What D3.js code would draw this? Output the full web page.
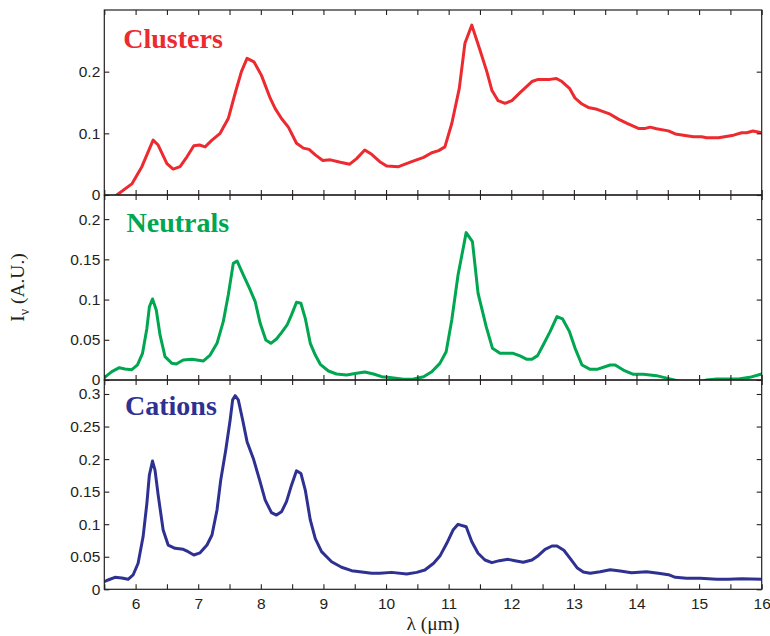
<!DOCTYPE html>
<html>
<head>
<meta charset="utf-8">
<script src="https://cdn.jsdelivr.net/npm/d3@7"></script>
<style>
  html, body { margin: 0; padding: 0; background: #fff; }
  svg { display: block; }
  .tick text { font-family: "Liberation Sans", Arial, sans-serif; font-size: 15.5px; fill: #231f20; }
  .tick line { stroke: #231f20; stroke-width: 1.1; }
</style>
</head>
<body>
<svg id="chart" width="770" height="636"></svg>
<script>
// PAH emission spectra, intensity vs wavelength (μm), one panel per population
const clusters = [
  [5.50,-0.014],[5.70,0],[5.94,0.018],[6.10,0.046],[6.28,0.089],[6.36,0.081],[6.50,0.051],[6.60,0.042],
  [6.71,0.046],[6.82,0.062],[6.93,0.080],[7.02,0.081],[7.11,0.078],[7.22,0.089],[7.35,0.100],[7.48,0.124],
  [7.59,0.165],[7.69,0.200],[7.78,0.2215],[7.89,0.216],[8.01,0.194],[8.15,0.157],[8.23,0.140],[8.33,0.124],
  [8.44,0.110],[8.57,0.084],[8.68,0.076],[8.77,0.074],[8.87,0.065],[8.99,0.056],[9.11,0.057],[9.27,0.053],
  [9.42,0.050],[9.53,0.059],[9.66,0.073],[9.77,0.066],[9.90,0.054],[10.01,0.047],[10.20,0.046],[10.41,0.054],
  [10.60,0.061],[10.73,0.0686],[10.84,0.072],[10.94,0.078],[11.05,0.116],[11.17,0.173],[11.26,0.246],[11.37,0.2755],
  [11.50,0.235],[11.61,0.200],[11.69,0.170],[11.79,0.153],[11.90,0.1486],[12.01,0.153],[12.14,0.166],[12.33,0.184],
  [12.43,0.1875],[12.62,0.1875],[12.72,0.189],[12.81,0.184],[12.93,0.173],[13.02,0.157],[13.13,0.1475],[13.23,0.142],
  [13.37,0.139],[13.58,0.131],[13.71,0.123],[13.85,0.116],[14.03,0.108],[14.14,0.108],[14.22,0.110],[14.32,0.1075],
  [14.51,0.104],[14.62,0.099],[14.75,0.097],[14.91,0.0945],[15.04,0.0945],[15.12,0.093],[15.31,0.093],[15.55,0.097],
  [15.68,0.101],[15.76,0.101],[15.86,0.1037],[16.00,0.101]
];

const neutrals = [
  [5.50,0.003],[5.62,0.0104],[5.74,0.0153],[5.83,0.0137],[5.94,0.0128],[6.03,0.0187],[6.11,0.033],[6.18,0.064],
  [6.22,0.091],[6.27,0.1007],[6.33,0.087],[6.39,0.056],[6.47,0.029],[6.58,0.0207],[6.65,0.0199],[6.76,0.0249],
  [6.90,0.0257],[6.98,0.0249],[7.08,0.0236],[7.19,0.031],[7.30,0.0456],[7.40,0.0725],[7.48,0.1057],[7.56,0.145],
  [7.62,0.148],[7.72,0.1306],[7.82,0.114],[7.91,0.0974],[7.99,0.0705],[8.08,0.0498],[8.16,0.0456],[8.25,0.051],
  [8.33,0.0589],[8.42,0.0684],[8.49,0.081],[8.57,0.0966],[8.64,0.0954],[8.71,0.0767],[8.79,0.0456],[8.87,0.031],
  [8.95,0.0195],[9.08,0.0112],[9.21,0.0075],[9.37,0.0062],[9.53,0.0083],[9.66,0.0100],[9.80,0.0075],[9.93,0.0041],
  [10.06,0.003],[10.28,0.001],[10.44,0.0012],[10.60,0.0041],[10.73,0.0103],[10.86,0.0207],[10.96,0.0352],[11.05,0.0746],
  [11.15,0.1306],[11.28,0.1832],[11.38,0.172],[11.47,0.1078],[11.60,0.0663],[11.70,0.0394],[11.82,0.0332],[12.03,0.0332],
  [12.14,0.0299],[12.25,0.0257],[12.33,0.0257],[12.42,0.0303],[12.51,0.0435],[12.62,0.0601],[12.73,0.0788],[12.82,0.0759],
  [12.93,0.0601],[13.02,0.0394],[13.13,0.0187],[13.26,0.0133],[13.37,0.0133],[13.58,0.0187],[13.66,0.0187],[13.79,0.0124],
  [13.95,0.0071],[14.11,0.0071],[14.32,0.0054],[14.45,0.003],[14.60,0.0],[14.80,-0.004],[15.00,-0.003],[15.12,0.0],
  [15.28,0.0012],[15.50,0.0012],[15.63,0.0012],[15.81,0.0033],[16.00,0.0075]
];

const cations = [
  [5.50,0.0117],[5.56,0.0143],[5.67,0.0184],[5.78,0.0174],[5.88,0.0154],[5.96,0.022],[6.04,0.040],[6.12,0.081],
  [6.18,0.132],[6.22,0.1756],[6.27,0.197],[6.31,0.183],[6.36,0.145],[6.44,0.091],[6.52,0.068],[6.63,0.063],
  [6.76,0.0614],[6.84,0.0578],[6.93,0.0527],[7.03,0.056],[7.14,0.068],[7.22,0.0834],[7.30,0.1218],[7.36,0.168],
  [7.44,0.214],[7.51,0.260],[7.55,0.291],[7.59,0.2974],[7.64,0.291],[7.71,0.260],[7.78,0.2268],[7.88,0.201],
  [7.98,0.168],[8.07,0.137],[8.17,0.1177],[8.25,0.114],[8.33,0.119],[8.41,0.1346],[8.49,0.160],[8.57,0.182],
  [8.64,0.178],[8.71,0.1525],[8.79,0.1065],[8.87,0.078],[8.97,0.0578],[9.13,0.0424],[9.29,0.0338],[9.45,0.0286],
  [9.58,0.027],[9.77,0.0246],[9.90,0.0246],[10.09,0.026],[10.33,0.0235],[10.49,0.026],[10.62,0.0296],[10.76,0.040],
  [10.86,0.051],[10.97,0.0707],[11.07,0.091],[11.15,0.0998],[11.28,0.096],[11.37,0.073],[11.47,0.0553],[11.58,0.045],
  [11.69,0.0409],[11.81,0.044],[11.95,0.046],[12.06,0.044],[12.19,0.0415],[12.33,0.045],[12.43,0.0516],[12.54,0.0614],
  [12.65,0.0665],[12.73,0.0665],[12.84,0.060],[12.94,0.0476],[13.05,0.0332],[13.15,0.0266],[13.26,0.0246],[13.42,0.027],
  [13.58,0.0301],[13.74,0.028],[13.92,0.0255],[14.16,0.027],[14.35,0.0246],[14.51,0.0224],[14.62,0.0184],[14.80,0.0169],
  [15.02,0.0169],[15.28,0.0154],[15.47,0.0154],[15.68,0.0163],[16.00,0.0154]
];

const seriesNames = ["Clusters", "Neutrals", "Cations"];
const xTicksMajor = [6, 7, 8, 9, 10, 11, 12, 13, 14, 15, 16];
const xTicksAll = [5.5, 6, 6.5, 7, 7.5, 8, 8.5, 9, 9.5, 10, 10.5, 11, 11.5, 12, 12.5, 13, 13.5, 14, 14.5, 15, 15.5, 16];
const yTicksClusters = [0, 0.1, 0.2];
const yTicksNeutrals = [0, 0.05, 0.1, 0.15, 0.2];
const yTicksCations = [0, 0.05, 0.1, 0.15, 0.2, 0.25, 0.3];
const yMaxes = [0.3, 0.23, 0.3215];

// layout
const left = 104.3, right = 761.7;
const panelBounds = [[10, 195], [195, 380], [380, 589.3]];
const colors = ["#ec2a2f", "#00a650", "#2e3192"];
const titleX = [123.3, 126.5, 125];
const titleBaseline = [48, 231.5, 414.5];
const ink = "#231f20";

const svg = d3.select("#chart");
const x = d3.scaleLinear().domain([5.5, 16]).range([left, right]);

const panels = [
  { name: seriesNames[0], data: clusters, ticks: yTicksClusters },
  { name: seriesNames[1], data: neutrals, ticks: yTicksNeutrals },
  { name: seriesNames[2], data: cations, ticks: yTicksCations }
];

const defs = svg.append("defs");

panels.forEach((p, i) => {
  const [top, bottom] = panelBounds[i];
  const y = d3.scaleLinear().domain([0, yMaxes[i]]).range([bottom, top]);
  const g = svg.append("g");

  defs.append("clipPath").attr("id", "clip" + i)
    .append("rect")
    .attr("x", left).attr("y", top)
    .attr("width", right - left).attr("height", bottom - top);

  // spectrum
  const line = d3.line().x(d => x(d[0])).y(d => y(d[1])).curve(d3.curveLinear);
  g.append("path")
    .datum(p.data)
    .attr("clip-path", `url(#clip${i})`)
    .attr("fill", "none")
    .attr("stroke", colors[i])
    .attr("stroke-width", 3)
    .attr("stroke-linejoin", "round")
    .attr("stroke-linecap", "round")
    .attr("d", line);

  // y axis left with labels
  g.append("g").attr("transform", `translate(${left},0)`)
    .call(d3.axisLeft(y).tickValues(p.ticks).tickFormat(d3.format("~g"))
      .tickSizeInner(-5).tickSizeOuter(0).tickPadding(4))
    .call(a => a.select(".domain").remove());

  // y axis right, ticks only
  g.append("g").attr("transform", `translate(${right},0)`)
    .call(d3.axisRight(y).tickValues(p.ticks).tickFormat("")
      .tickSizeInner(-5).tickSizeOuter(0))
    .call(a => a.select(".domain").remove());

  // x ticks top
  g.append("g").attr("transform", `translate(0,${top})`)
    .call(d3.axisTop(x).tickValues(xTicksAll).tickFormat("")
      .tickSizeInner(-5).tickSizeOuter(0))
    .call(a => a.select(".domain").remove());

  // x ticks bottom (labels only on lowest panel)
  const bottomAxis = d3.axisBottom(x).tickValues(xTicksAll)
    .tickSizeInner(-5).tickSizeOuter(0).tickPadding(9)
    .tickFormat(d => (i === 2 && xTicksMajor.includes(d)) ? d3.format("d")(d) : "");
  g.append("g").attr("transform", `translate(0,${bottom})`)
    .call(bottomAxis)
    .call(a => a.select(".domain").remove());

  // frame
  g.append("rect")
    .attr("x", left).attr("y", top)
    .attr("width", right - left).attr("height", bottom - top)
    .attr("fill", "none").attr("stroke", ink).attr("stroke-width", 1.2);

  // panel title
  g.append("text")
    .attr("x", titleX[i]).attr("y", titleBaseline[i])
    .attr("font-family", "'Liberation Serif', 'Times New Roman', serif")
    .attr("font-weight", "bold")
    .attr("font-size", 28)
    .attr("fill", colors[i])
    .text(p.name);
});

// x axis title
svg.append("text")
  .attr("x", (left + right) / 2).attr("y", 629.5)
  .attr("text-anchor", "middle")
  .attr("font-family", "'Liberation Serif', 'Times New Roman', serif")
  .attr("font-size", 19.5)
  .attr("fill", ink)
  .text("λ (μm)");

// y axis title
const yt = svg.append("text")
  .attr("transform", "translate(23.5,287.5) rotate(-90)")
  .attr("text-anchor", "middle")
  .attr("font-family", "'Liberation Serif', 'Times New Roman', serif")
  .attr("font-size", 19.5)
  .attr("fill", ink);
yt.append("tspan").text("I");
yt.append("tspan").attr("font-size", 14).attr("dy", 5).text("ν");
yt.append("tspan").attr("dy", -5).text(" (A.U.)");
</script>
</body>
</html>
